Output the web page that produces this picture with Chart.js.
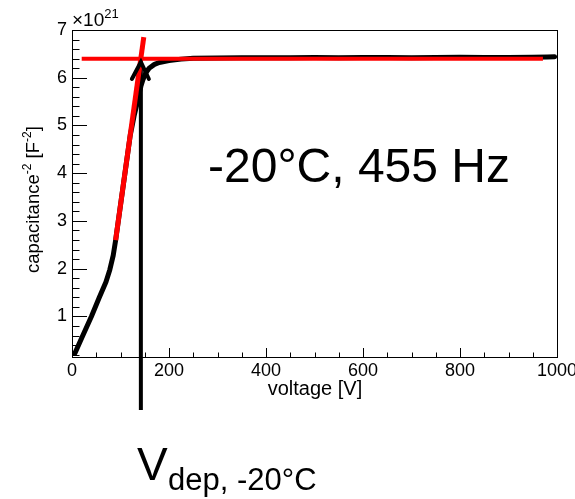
<!DOCTYPE html>
<html>
<head>
<meta charset="utf-8">
<script src="https://cdn.jsdelivr.net/npm/chart.js@4/dist/chart.umd.min.js"></script>
<style>
  html, body { margin: 0; padding: 0; background: #fff; }
  canvas { display: block; }
</style>
</head>
<body>
<canvas id="cv" width="575" height="499"></canvas>
<script>
// C^-2 vs bias voltage, values in units of 1e21 F^-2
var voltage = [6, 20, 40, 56, 70, 78, 85, 90, 100, 110, 120, 128, 134, 138, 142, 146, 152, 159, 170, 180, 200,
  225, 250, 300, 350, 400, 450, 500, 550, 600, 650, 700, 750, 800, 850, 900, 950, 980, 995];
var invCapSq = [0.23, 0.55, 1.0, 1.39, 1.72, 1.98, 2.28, 2.6, 3.33, 4.06, 4.79, 5.2, 5.45, 5.65, 5.82, 5.95, 6.1, 6.2, 6.28, 6.32, 6.36,
  6.39, 6.41, 6.415, 6.42, 6.42, 6.42, 6.425, 6.42, 6.425, 6.425, 6.42, 6.425, 6.43, 6.425, 6.425, 6.43, 6.435, 6.44];

// linear fits
var fitRiseV = [90, 148];
var fitRiseC = [2.6, 6.85];
var fitFlatV = [20, 971];
var fitFlatC = [6.4, 6.4];

// depletion voltage arrow
var arrowV = 142;
var arrowC = [-0.96, 6.33];

var xTicks = [0, 200, 400, 600, 800, 1000];
var yTicks = [1, 2, 3, 4, 5, 6, 7];

var FONT = '"Liberation Sans", Arial, sans-serif';

function pts(xs, ys) {
  return xs.map(function (x, i) { return { x: x, y: ys[i] }; });
}

// draws text pieces [text, size, dy] one after another
function richText(ctx, parts, x, y) {
  parts.forEach(function (p) {
    ctx.font = p[1] + 'px ' + FONT;
    ctx.fillText(p[0], x, y + (p[2] || 0));
    x += ctx.measureText(p[0]).width;
  });
}

var decor = {
  id: 'decor',
  afterDatasetsDraw: function (chart) {
    var ctx = chart.ctx;
    var xs = chart.scales.x, ys = chart.scales.y;
    ctx.save();
    // arrow head
    var tx = xs.getPixelForValue(arrowV), ty = ys.getPixelForValue(arrowC[1]);
    ctx.strokeStyle = '#000';
    ctx.lineWidth = 4;
    ctx.lineCap = 'round';
    ctx.beginPath();
    ctx.moveTo(tx - 9, ty + 17);
    ctx.lineTo(tx, ty);
    ctx.lineTo(tx + 8, ty + 17);
    ctx.stroke();
    ctx.restore();
  },
  afterDraw: function (chart) {
    var ctx = chart.ctx, a = chart.chartArea;
    var xs = chart.scales.x, ys = chart.scales.y;
    ctx.save();
    ctx.strokeStyle = '#000';
    ctx.lineWidth = 1;
    ctx.strokeRect(a.left + 0.5, a.top + 0.5, a.right - a.left, a.bottom - a.top);

    ctx.beginPath();
    var v, p;
    for (v = 0; v <= 1000; v += 50) {
      p = Math.round(xs.getPixelForValue(v)) + 0.5;
      ctx.moveTo(p, a.bottom);
      ctx.lineTo(p, a.bottom - (v % 200 === 0 ? 9 : 4.5));
    }
    for (v = 2; v <= 70; v += 2) {
      var val = v / 10;
      if (val < ys.min) continue;
      p = Math.round(ys.getPixelForValue(val)) + 0.5;
      ctx.moveTo(a.left, p);
      ctx.lineTo(a.left + (v % 10 === 0 ? 15 : 7.5), p);
    }
    ctx.stroke();

    ctx.fillStyle = '#000';
    ctx.textBaseline = 'alphabetic';
    ctx.textAlign = 'left';

    // exponent
    richText(ctx, [['\u00d710', 19], ['21', 13, -8]], 72, 26);

    // label inside plot
    richText(ctx, [['-20\u00b0C, 455 Hz', 48]], 208, 182);

    // x title
    ctx.font = '20px ' + FONT;
    ctx.textAlign = 'center';
    ctx.fillText('voltage [V]', 315, 395);
    ctx.textAlign = 'left';

    // y title, rotated
    ctx.save();
    ctx.translate(39, 273);
    ctx.rotate(-Math.PI / 2);
    richText(ctx, [['capacitance', 18.5], ['-2', 12, -8], [' [F', 18.5], ['-2', 12, -8], [']', 18.5]], 0, 0);
    ctx.restore();

    // V_dep label
    richText(ctx, [['V', 46]], 137, 480);
    richText(ctx, [['dep, -20\u00b0C', 31]], 168, 490);
    ctx.restore();
  }
};

new Chart(document.getElementById('cv'), {
  type: 'line',
  data: {
    datasets: [{
      data: pts(fitRiseV, fitRiseC),
      borderColor: '#ff0000',
      borderWidth: 5,
      order: 0
    }, {
      data: pts(fitFlatV, fitFlatC),
      borderColor: '#ff0000',
      borderWidth: 4,
      order: 0
    }, {
      data: pts([arrowV, arrowV], arrowC),
      borderColor: '#000',
      borderWidth: 4,
      clip: false,
      order: 1
    }, {
      data: pts(voltage, invCapSq),
      borderColor: '#000',
      borderWidth: 5,
      borderCapStyle: 'round',
      borderJoinStyle: 'round',
      order: 2
    }]
  },
  options: {
    responsive: false,
    animation: false,
    devicePixelRatio: 1,
    layout: { padding: { top: 30, right: 18, left: 0, bottom: 99 } },
    elements: { point: { radius: 0 }, line: { tension: 0 } },
    plugins: { legend: { display: false }, tooltip: { enabled: false } },
    scales: {
      x: {
        type: 'linear',
        min: 0,
        max: 1000,
        afterBuildTicks: function (s) { s.ticks = xTicks.map(function (v) { return { value: v }; }); },
        afterFit: function (s) { s.height = 43; s.paddingLeft = 0; s.paddingRight = 0; },
        grid: { display: false, drawTicks: false },
        border: { display: false },
        ticks: {
          color: '#000', font: { family: FONT, size: 18 }, padding: 3, maxRotation: 0, autoSkip: false,
          callback: function (v) { return String(v); }
        }
      },
      y: {
        type: 'linear',
        min: 0.15,
        max: 7,
        afterBuildTicks: function (s) { s.ticks = yTicks.map(function (v) { return { value: v }; }); },
        afterFit: function (s) { s.width = 72; s.paddingTop = 0; s.paddingBottom = 0; },
        grid: { display: false, drawTicks: false },
        border: { display: false },
        ticks: {
          color: '#000', font: { family: FONT, size: 18 }, padding: 5, autoSkip: false,
          callback: function (v) { return String(v); }
        }
      }
    }
  },
  plugins: [decor]
});
</script>
</body>
</html>
